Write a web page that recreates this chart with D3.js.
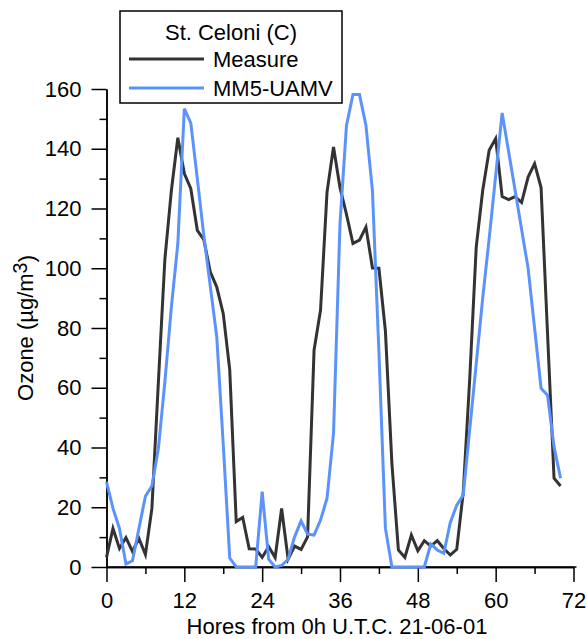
<!DOCTYPE html>
<html>
<head>
<meta charset="utf-8">
<script src="https://cdn.jsdelivr.net/npm/d3@7"></script>
<style>
  html, body { margin: 0; padding: 0; background: #ffffff; }
  svg { display: block; }
  text { font-family: Arial, "Liberation Sans", sans-serif; fill: #000; }
</style>
</head>
<body>
<svg id="chart" width="587" height="639"></svg>
<script>
// ---- data ----
const hours = d3.range(0, 71);
const measure = [
  3.2, 12.9, 6.2, 9.8, 5.2, 9.6, 4.2, 19.6, 62, 103,
  126, 143.7, 131.7, 126.6, 112.7, 109.6, 98.8, 93.7, 84.8, 66,
  15.2, 16.6, 6.1, 6.0, 3.2, 6.8, 3.2, 19.6, 2.6, 7.0,
  5.9, 10.1, 72.6, 86, 125.5, 140.6, 127, 118, 108.3, 109.4,
  113.8, 100.1, 100, 79, 34.7, 5.7, 3.2, 10.7, 5.4, 8.8,
  7.0, 8.8, 6.2, 4.0, 5.9, 25, 63, 107, 126, 139.5,
  143.4, 124, 123, 124, 122, 130.5, 135, 127, 78, 29.7,
  27.1
];
const mm5 = [
  28.5, 19.6, 12.9, 1.0, 2.1, 12.9, 23.7, 27.1, 39.7, 62,
  87, 108.3, 153.4, 148.6, 130, 111, 94, 77, 41, 3,
  0, 0, 0, 0, 25.2, 2.6, 0, 0.5, 2.6, 10.1,
  15.4, 11, 10.7, 15.7, 23, 44.7, 115, 147.8, 158.2, 158.2,
  147.8, 126, 72, 13, 0, 0, 0, 0, 0, 0,
  7.7, 5.7, 4.6, 14.8, 20.7, 24.1, 46, 68, 90, 110,
  131, 152, 139, 126, 113, 100, 80, 59.8, 57.5, 40.2,
  29.7
];
const seriesNames = ["Measure", "MM5-UAMV"];
const seriesColors = ["#333333", "#5b93fb"];
const legendTitle = "St. Celoni (C)";
const xTicksMajor = [0, 12, 24, 36, 48, 60, 72];
const xTicksMinor = [6, 18, 30, 42, 54, 66];
const yTicksMajor = [0, 20, 40, 60, 80, 100, 120, 140, 160];
const yTicksMinor = [10, 30, 50, 70, 90, 110, 130, 150];
const xTitle = "Hores from 0h U.T.C. 21-06-01";

// ---- layout ----
const svg = d3.select("#chart");
const x = d3.scaleLinear().domain([0, 72]).range([106.5, 573.5]);
const y = d3.scaleLinear().domain([0, 160]).range([567, 89]);
const FS = 22;

// axes
const gx = svg.append("g").attr("transform", `translate(0,${y(0)})`);
gx.call(d3.axisBottom(x).tickValues(xTicksMajor).tickSize(15).tickSizeOuter(0).tickPadding(10).tickFormat(d3.format("d")));
gx.append("g").call(d3.axisBottom(x).tickValues(xTicksMinor).tickSize(7).tickSizeOuter(0).tickFormat(""));
gx.selectAll(".domain").attr("stroke", "#000").attr("stroke-width", 1.5);
gx.selectAll(".tick line").attr("stroke", "#000").attr("stroke-width", 1.5);
gx.selectAll(".tick text").style("font-size", FS + "px").attr("fill", "#000");
svg.append("line").attr("x1", x(0)).attr("x2", x(72) + 3).attr("y1", y(0)).attr("y2", y(0))
  .attr("stroke", "#000").attr("stroke-width", 1.5);

const gy = svg.append("g").attr("transform", `translate(${x(0)},0)`);
gy.call(d3.axisLeft(y).tickValues(yTicksMajor).tickSize(15).tickSizeOuter(0).tickPadding(10).tickFormat(d3.format("d")));
gy.append("g").call(d3.axisLeft(y).tickValues(yTicksMinor).tickSize(7).tickSizeOuter(0).tickFormat(""));
gy.selectAll(".domain").attr("stroke", "#000").attr("stroke-width", 1.5);
gy.selectAll(".tick line").attr("stroke", "#000").attr("stroke-width", 1.5);
gy.selectAll(".tick text").style("font-size", FS + "px").attr("fill", "#000");

// axis titles
svg.append("text").attr("x", (x(0) + x(72)) / 2 - 3).attr("y", 634)
  .attr("text-anchor", "middle").style("font-size", FS + "px").text(xTitle);

const yt = svg.append("text")
  .attr("transform", `translate(33,${(y(0) + y(160)) / 2}) rotate(-90)`)
  .attr("text-anchor", "middle").style("font-size", FS + "px");
yt.append("tspan").text("Ozone (\u00B5g/m");
yt.append("tspan").attr("dy", "-0.3em").style("font-size", (FS * 0.9) + "px").text("3");
yt.append("tspan").attr("dy", "0.3em").text(")");

// lines
const line = d3.line().x((d, i) => x(hours[i])).y(d => y(d));
[measure, mm5].forEach((s, k) => {
  svg.append("path").datum(s).attr("d", line)
    .attr("fill", "none").attr("stroke", seriesColors[k])
    .attr("stroke-width", 3).attr("stroke-linejoin", "miter");
});

// legend
const lg = svg.append("g");
lg.append("rect").attr("x", 120).attr("y", 11).attr("width", 222).attr("height", 92)
  .attr("fill", "#fff").attr("stroke", "#000").attr("stroke-width", 1.5);
lg.append("text").attr("x", 231).attr("y", 40).attr("text-anchor", "middle")
  .style("font-size", FS + "px").text(legendTitle);
seriesNames.forEach((n, k) => {
  const yy = 59 + k * 29;
  lg.append("line").attr("x1", 129).attr("x2", 204).attr("y1", yy).attr("y2", yy)
    .attr("stroke", seriesColors[k]).attr("stroke-width", 3);
  lg.append("text").attr("x", 213).attr("y", yy + 8)
    .style("font-size", FS + "px").text(n);
});
</script>
</body>
</html>
